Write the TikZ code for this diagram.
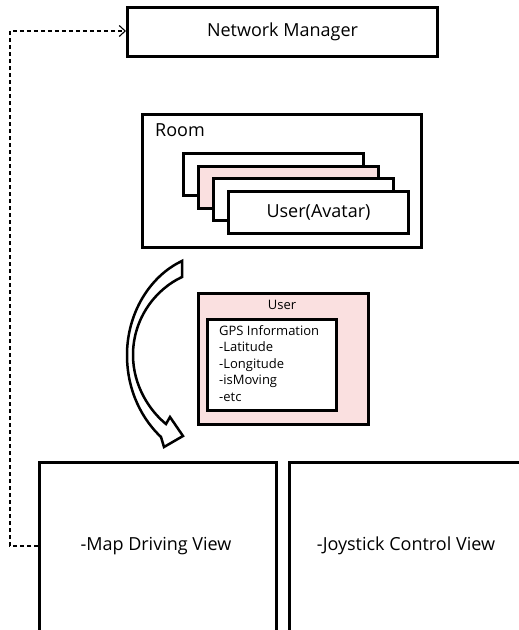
\documentclass[tikz,border=0pt]{standalone}
\usepackage{fontspec}
\setmainfont{Open Sans}
\usetikzlibrary{arrows.meta}
\definecolor{userpink}{RGB}{250,224,224}
\tikzset{
  box/.style={draw=black, line width=3pt, rectangle, inner sep=0pt, fill=white},
  bigtext/.style={font=\fontsize{18}{22}\selectfont},
  smalltext/.style={font=\fontsize{13}{16.5}\selectfont},
  link/.style={draw=black, line width=1.1pt, dash pattern=on 4pt off 3pt},
}
\begin{document}
\begin{tikzpicture}[x=1pt, y=-1pt]
  \clip (0,0) rectangle (519,630);
  \fill[white] (0,0) rectangle (519,630);

  % Network manager at the top
  \node[box, bigtext, minimum width=310pt, minimum height=49pt, anchor=north west]
    (nm) at (126,6) {Network Manager};

  % Room with a stack of user avatars
  \node[box, minimum width=279pt, minimum height=133pt, anchor=north west]
    (room) at (141,113) {};
  \node[bigtext, anchor=west, inner sep=0pt] (roomlbl) at (155,130) {Room};
  \node[box, minimum width=180pt, minimum height=42pt, anchor=north west]
    (av1) at (182,152) {};
  \node[box, fill=userpink, minimum width=180pt, minimum height=42pt, anchor=north west]
    (av2) at (197,164.5) {};
  \node[box, minimum width=180pt, minimum height=42pt, anchor=north west]
    (av3) at (212,177) {};
  \node[box, bigtext, minimum width=180pt, minimum height=42pt, anchor=north west]
    (av4) at (227,189.5) {User(Avatar)};

  % User record with its GPS information
  \node[box, fill=userpink, minimum width=170pt, minimum height=131pt, anchor=north west]
    (user) at (197,292) {};
  \node[smalltext, inner sep=0pt] (userlbl) at (282,305) {User};
  \node[box, minimum width=129pt, minimum height=91pt, anchor=north west]
    (gps) at (206,318) {};
  \node[smalltext, align=left, anchor=north west, inner sep=0pt] (gpstext) at (219,325)
    {GPS Information\\-Latitude\\-Longitude\\-isMoving\\-etc};

  % Curved hollow block arrow
  \draw[line width=2.5pt, fill=white, line join=miter]
    (182,261) -- (182,277)
    .. controls (156,289) and (133,318) .. (133,355)
    .. controls (133,386) and (150,411) .. (166,424)
    -- (170,417) -- (183,436) -- (164,447) -- (161,437)
    .. controls (143,420) and (127,392) .. (127,355)
    .. controls (127,313) and (150,276) .. (182,261) -- cycle;

  % The two views
  \node[box, minimum width=237pt, minimum height=200pt, anchor=north west]
    (mapview) at (38,461) {};
  \node[bigtext] (maplbl) at (156,546) {-Map Driving View};
  \node[box, minimum width=260pt, minimum height=200pt, anchor=north west]
    (joyview) at (288,461) {};
  \node[bigtext] (joylbl) at (406,546) {-Joystick Control View};

  % Dashed link from the map view back to the network manager
  \coordinate (turnlow) at (10,546);
  \coordinate (turnhigh) at (10,31);
  \draw[link, -{Straight Barb[length=6pt, width=11pt, line width=1.1pt]}]
    (mapview.west |- maplbl) -- (turnlow) -- (turnhigh) -- (nm.west |- turnhigh);
\end{tikzpicture}
\end{document}
